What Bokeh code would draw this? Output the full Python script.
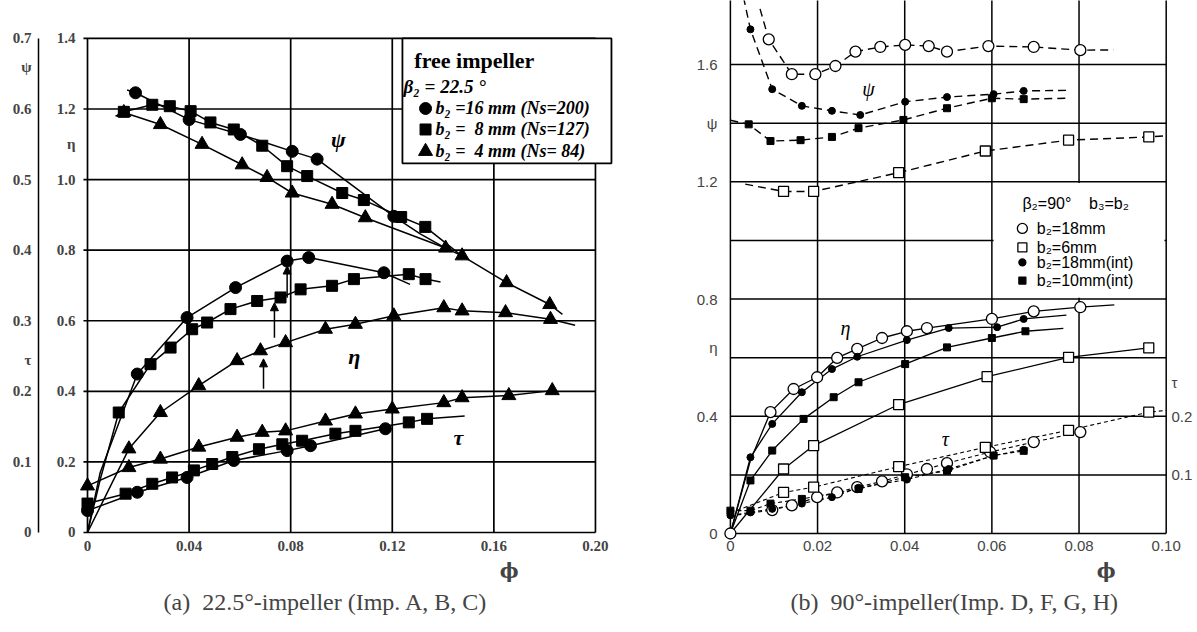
from bokeh.plotting import figure
from bokeh.layouts import row
from bokeh.models import Range1d, LinearAxis, FixedTicker, Label, Arrow, NormalHead, Title
from bokeh.embed import file_html
from bokeh.resources import INLINE

SERIF = "Liberation Serif"
SANS = "Liberation Sans"

# ======================= Panel (a) data =======================
a_phi_ticks = [0.0, 0.04, 0.08, 0.12, 0.16, 0.20]
a_phi_labels = ["0", "0.04", "0.08", "0.12", "0.16", "0.20"]
a_eta_ticks = [0.0, 0.2, 0.4, 0.6, 0.8, 1.0, 1.2, 1.4]
a_eta_labels = ["0", "0.2", "0.4", "0.6", "0.8", "1.0", "1.2", "1.4"]
a_psi_ticks = [0.0, 0.1, 0.2, 0.3, 0.4, 0.5, 0.6, 0.7]
a_psi_labels = ["0", "0.1", "0.2", "0.3", "0.4", "0.5", "0.6", "0.7"]

# psi (outer left scale)
a16_psi_phi = [0.0189, 0.040, 0.0602, 0.0806, 0.0904, 0.1206]
a16_psi_val = [0.623, 0.585, 0.564, 0.540, 0.529, 0.448]
a16_psi_line_phi = [0.0156] + a16_psi_phi + [0.131, 0.141]
a16_psi_line_val = [0.627] + a16_psi_val + [0.423, 0.403]

a8_psi_phi = [0.0143, 0.0255, 0.0324, 0.0406, 0.0484, 0.0576, 0.0688, 0.0786, 0.0865, 0.1003, 0.1088, 0.1235, 0.1330]
a8_psi_val = [0.596, 0.606, 0.604, 0.597, 0.581, 0.571, 0.548, 0.519, 0.505, 0.481, 0.471, 0.447, 0.433]
a8_psi_line_phi = a8_psi_phi + [0.147]
a8_psi_line_val = a8_psi_val + [0.393]

a4_psi_phi = [0.0143, 0.0287, 0.0451, 0.0609, 0.0707, 0.0806, 0.0963, 0.1094, 0.141, 0.1475, 0.165, 0.182]
a4_psi_val = [0.595, 0.578, 0.550, 0.521, 0.503, 0.481, 0.465, 0.446, 0.403, 0.392, 0.354, 0.323]
a4_psi_line_phi = [0.011] + a4_psi_phi + [0.187]
a4_psi_line_val = [0.590] + a4_psi_val + [0.309]

# eta (inner left scale)
a16_eta_phi = [0.0196, 0.0392, 0.0583, 0.0786, 0.0871, 0.1167]
a16_eta_val = [0.449, 0.609, 0.694, 0.769, 0.779, 0.736]
a16_eta_line_phi = [0.0, 0.005] + a16_eta_phi + [0.127]
a16_eta_line_val = [0.0, 0.17] + a16_eta_val + [0.703]

a8_eta_phi = [0.0123, 0.0248, 0.0327, 0.0412, 0.0471, 0.0563, 0.0668, 0.076, 0.0839, 0.0963, 0.1049, 0.1265, 0.1331]
a8_eta_val = [0.340, 0.477, 0.524, 0.576, 0.595, 0.633, 0.656, 0.666, 0.689, 0.699, 0.718, 0.732, 0.718]
a8_eta_line_phi = [0.0, 0.005] + a8_eta_phi + [0.139]
a8_eta_line_val = [0.0, 0.15] + a8_eta_val + [0.710]

a4_eta_phi = [0.0163, 0.0287, 0.0438, 0.0589, 0.0681, 0.078, 0.0937, 0.1055, 0.1206, 0.1403, 0.1475, 0.1646, 0.1823]
a4_eta_val = [0.237, 0.340, 0.416, 0.487, 0.515, 0.538, 0.576, 0.590, 0.614, 0.637, 0.628, 0.623, 0.604]
a4_eta_line_phi = [0.0] + a4_eta_phi + [0.192]
a4_eta_line_val = [0.0] + a4_eta_val + [0.587]

# tau (outer left scale)
a16_tau_phi = [0.0, 0.0196, 0.0392, 0.0576, 0.0786, 0.0878, 0.1173]
a16_tau_val = [0.031, 0.057, 0.078, 0.102, 0.116, 0.123, 0.147]
a8_tau_phi = [0.0, 0.015, 0.0255, 0.0333, 0.0419, 0.0491, 0.057, 0.0675, 0.0767, 0.0845, 0.0976, 0.1055, 0.1265, 0.1337]
a8_tau_val = [0.041, 0.055, 0.069, 0.078, 0.088, 0.097, 0.107, 0.118, 0.125, 0.130, 0.140, 0.144, 0.156, 0.161]
a8_tau_line_phi = a8_tau_phi + [0.1485]
a8_tau_line_val = a8_tau_val + [0.165]
a4_tau_phi = [0.0, 0.0163, 0.0287, 0.0438, 0.0589, 0.0688, 0.078, 0.0937, 0.1055, 0.12, 0.1403, 0.1475, 0.1659, 0.183]
a4_tau_val = [0.066, 0.092, 0.104, 0.121, 0.135, 0.142, 0.144, 0.158, 0.168, 0.175, 0.184, 0.191, 0.194, 0.201]

# best-efficiency arrows (phi, eta from, eta to)
a_arrow_phi = [0.0786, 0.0736, 0.0693]
a_arrow_from = [0.665, 0.552, 0.407]
a_arrow_to = [0.755, 0.651, 0.492]

a_legend_title = ["free impeller", "\u03b2\u2082 = 22.5 \u00b0"]
a_legend_items = ["b\u2082 =16 mm (Ns=200)", "b\u2082 =\u00a0 8 mm (Ns=127)", "b\u2082 =\u00a0 4 mm (Ns=\u00a084)"]

# ======================= Panel (b) data =======================
b_phi_ticks = [0.0, 0.02, 0.04, 0.06, 0.08, 0.10]
b_phi_labels = ["0", "0.02", "0.04", "0.06", "0.08", "0.10"]
b_y_ticks = [0.0, 0.4, 0.8, 1.2, 1.6]
b_y_labels = ["0", "0.4", "0.8", "1.2", "1.6"]
b_grid_vals = [0.0, 0.2, 0.4, 0.6, 0.8, 1.0, 1.2, 1.4, 1.6]
b_tau_ticks = [0.1, 0.2]
b_tau_labels = ["0.1", "0.2"]

b18_psi_phi = [0.0088, 0.0141, 0.0195, 0.0241, 0.0287, 0.0344, 0.0401, 0.0455, 0.0497, 0.0592, 0.0696, 0.0803]
b18_psi_val = [1.686, 1.567, 1.567, 1.595, 1.644, 1.660, 1.667, 1.663, 1.644, 1.663, 1.660, 1.649]
b18_psi_line_phi = [0.0068] + b18_psi_phi + [0.0879]
b18_psi_line_val = [1.79] + b18_psi_val + [1.650]

b18i_psi_phi = [0.0046, 0.0096, 0.0164, 0.0233, 0.0298, 0.0401, 0.0497, 0.0604, 0.0673]
b18i_psi_val = [1.720, 1.516, 1.459, 1.442, 1.428, 1.473, 1.489, 1.499, 1.510]
b18i_psi_line_phi = [0.0030] + b18i_psi_phi + [0.0771]
b18i_psi_line_val = [1.83] + b18i_psi_val + [1.512]

b10i_psi_phi = [0.0042, 0.0092, 0.0161, 0.0233, 0.0294, 0.0397, 0.0497, 0.060, 0.0673]
b10i_psi_val = [1.396, 1.339, 1.342, 1.353, 1.383, 1.411, 1.451, 1.485, 1.482]
b10i_psi_line_phi = [0.0] + b10i_psi_phi + [0.0771]
b10i_psi_line_val = [1.41] + b10i_psi_val + [1.485]

b6_psi_phi = [0.0122, 0.0191, 0.0386, 0.0585, 0.0776, 0.096]
b6_psi_val = [1.167, 1.167, 1.231, 1.305, 1.342, 1.353]
b6_psi_line_phi = [0.0034] + b6_psi_phi + [0.100]
b6_psi_line_val = [1.192] + b6_psi_val + [1.357]

b18_eta_phi = [0.0, 0.0092, 0.0145, 0.0199, 0.0245, 0.0291, 0.0348, 0.0405, 0.0451, 0.060, 0.0696, 0.0803]
b18_eta_val = [0.0, 0.414, 0.493, 0.533, 0.599, 0.630, 0.667, 0.690, 0.701, 0.732, 0.758, 0.772]
b18_eta_line_phi = [0.0, 0.0046] + b18_eta_phi[1:] + [0.0881]
b18_eta_line_val = [0.0, 0.25] + b18_eta_val[1:] + [0.780]

b18i_eta_phi = [0.0046, 0.0096, 0.0164, 0.0233, 0.0291, 0.0405, 0.0501, 0.0612, 0.0673]
b18i_eta_val = [0.260, 0.374, 0.482, 0.561, 0.603, 0.660, 0.701, 0.704, 0.732]
b18i_eta_line_phi = [0.0] + b18i_eta_phi + [0.0771]
b18i_eta_line_val = [0.0] + b18i_eta_val + [0.745]

b10i_eta_phi = [0.0046, 0.0096, 0.0168, 0.0237, 0.0294, 0.0401, 0.0497, 0.060, 0.0677]
b10i_eta_val = [0.181, 0.283, 0.391, 0.465, 0.516, 0.578, 0.635, 0.667, 0.690]
b10i_eta_line_phi = [0.0] + b10i_eta_phi + [0.0764]
b10i_eta_line_val = [0.0] + b10i_eta_val + [0.700]

b6_eta_phi = [0.0122, 0.0191, 0.0386, 0.0589, 0.0776, 0.096]
b6_eta_val = [0.220, 0.300, 0.440, 0.535, 0.601, 0.633]
b6_eta_line_phi = [0.0] + b6_eta_phi
b6_eta_line_val = [0.0] + b6_eta_val

b6_tau_phi = [0.0122, 0.0191, 0.0386, 0.0585, 0.0776, 0.096]
b6_tau_val = [0.070, 0.079, 0.114, 0.147, 0.176, 0.207]
b6_tau_line_phi = [0.0] + b6_tau_phi + [0.100]
b6_tau_line_val = [0.035] + b6_tau_val + [0.210]

b18_tau_phi = [0.0096, 0.0141, 0.0199, 0.0245, 0.0291, 0.0348, 0.0405, 0.0451, 0.0497, 0.0596, 0.0696, 0.0803]
b18_tau_val = [0.040, 0.048, 0.062, 0.070, 0.079, 0.089, 0.101, 0.110, 0.120, 0.139, 0.156, 0.173]
b18_tau_line_phi = [0.0] + b18_tau_phi
b18_tau_line_val = [0.030] + b18_tau_val

b18i_tau_phi = [0.0, 0.0046, 0.0096, 0.0164, 0.0233, 0.0294, 0.0405, 0.0501, 0.0604, 0.0673]
b18i_tau_val = [0.031, 0.036, 0.042, 0.051, 0.062, 0.078, 0.092, 0.110, 0.133, 0.143]

b10i_tau_phi = [0.0, 0.0046, 0.0092, 0.0164, 0.0294, 0.0401, 0.0497, 0.0604, 0.0673]
b10i_tau_val = [0.039, 0.039, 0.051, 0.059, 0.076, 0.096, 0.107, 0.133, 0.141]

b_legend_title = "\u03b2\u2082=90\u00b0\u00a0\u00a0\u00a0 b\u2083=b\u2082"
b_legend_items = ["b\u2082=18mm", "b\u2082=6mm", "b\u2082=18mm(int)", "b\u2082=10mm(int)"]

caption_a = "(a)\u00a0 22.5\u00b0-impeller (Imp. A, B, C)"
caption_b = "(b)\u00a0 90\u00b0-impeller(Imp. D, F, G, H)"


def lab(p, x, y, text, font, size, style="normal", align="center", baseline="middle", rng="default"):
    p.add_layout(Label(x=x, y=y, text=text, text_font=font, text_font_size=size,
                       text_font_style=style, text_align=align, text_baseline=baseline,
                       y_range_name=rng, text_color="black"))


def style_axis(ax, ticks, labels, font, size, fstyle="normal", standoff=2):
    ax.ticker = FixedTicker(ticks=sorted(ticks), minor_ticks=[])
    ax.major_label_overrides = dict(zip(ticks, labels))
    ax.axis_line_color = None
    ax.major_tick_line_color = None
    ax.minor_tick_line_color = None
    ax.major_tick_out = 0
    ax.major_tick_in = 0
    ax.minor_tick_out = 0
    ax.minor_tick_in = 0
    ax.major_label_standoff = standoff
    ax.major_label_text_font = font
    ax.major_label_text_font_size = size
    ax.major_label_text_font_style = fstyle


# ======================= Panel (a) figure =======================
H = 628
pa = figure(width=641, height=H, x_range=Range1d(-0.00394, 0.2075), y_range=Range1d(-0.0227, 1.5075),
            output_backend="svg", toolbar_location=None, title=None,
            min_border_left=77, min_border_right=27, min_border_top=0, min_border_bottom=H - 540)
pa.outline_line_color = None
pa.grid.visible = False
pa.extra_y_ranges = {"psi": Range1d(-0.01135, 0.75375)}

style_axis(pa.xaxis[0], a_phi_ticks, a_phi_labels, SERIF, "15px", "bold", standoff=0)

# inner (eta) axis, with the eta symbol as an extra label
style_axis(pa.yaxis[0], a_eta_ticks + [1.1], a_eta_labels + ["\u03b7"], SERIF, "15px", "bold", standoff=2)
pa.yaxis[0].axis_label = " "
pa.yaxis[0].axis_label_text_font_size = "8px"
pa.yaxis[0].axis_label_standoff = 3

# outer (psi / tau) axis
ax_psi = LinearAxis(y_range_name="psi", bounds=(0.0, 0.7))
style_axis(ax_psi, a_psi_ticks + [0.66, 0.245], a_psi_labels + ["\u03c8", "\u03c4"], SERIF, "15px", "bold",
           standoff=7)
ax_psi.axis_line_color = "black"
ax_psi.axis_line_width = 1.5
pa.add_layout(ax_psi, "left")

# frame grid
nv = len(a_phi_ticks)
nh = len(a_eta_ticks)
pa.segment(x0=a_phi_ticks, y0=[0.0] * nv, x1=a_phi_ticks, y1=[1.4] * nv, line_color="black", line_width=1.7)
pa.segment(x0=[-0.0016] * nh, y0=a_eta_ticks, x1=[0.20] * nh, y1=a_eta_ticks, line_color="black", line_width=1.7)

LW = 1.5
pa.line(a16_psi_line_phi, a16_psi_line_val, y_range_name="psi", line_color="black", line_width=LW)
pa.line(a8_psi_line_phi, a8_psi_line_val, y_range_name="psi", line_color="black", line_width=LW)
pa.line(a4_psi_line_phi, a4_psi_line_val, y_range_name="psi", line_color="black", line_width=LW)
pa.line(a16_eta_line_phi, a16_eta_line_val, line_color="black", line_width=LW)
pa.line(a8_eta_line_phi, a8_eta_line_val, line_color="black", line_width=LW)
pa.line(a4_eta_line_phi, a4_eta_line_val, line_color="black", line_width=LW)
pa.line(a16_tau_phi, a16_tau_val, y_range_name="psi", line_color="black", line_width=LW)
pa.line(a8_tau_line_phi, a8_tau_line_val, y_range_name="psi", line_color="black", line_width=LW)
pa.line(a4_tau_phi, a4_tau_val, y_range_name="psi", line_color="black", line_width=LW)

CS, SS, TS = 12, 11, 14
for xs, ys, rng in [(a16_psi_phi, a16_psi_val, "psi"), (a16_eta_phi, a16_eta_val, "default"),
                    (a16_tau_phi, a16_tau_val, "psi")]:
    pa.scatter(xs, ys, marker="circle", size=CS, color="black", y_range_name=rng)
for xs, ys, rng in [(a8_psi_phi, a8_psi_val, "psi"), (a8_eta_phi, a8_eta_val, "default"),
                    (a8_tau_phi, a8_tau_val, "psi")]:
    pa.scatter(xs, ys, marker="square", size=SS, color="black", y_range_name=rng)
for xs, ys, rng in [(a4_psi_phi, a4_psi_val, "psi"), (a4_eta_phi, a4_eta_val, "default"),
                    (a4_tau_phi, a4_tau_val, "psi")]:
    pa.scatter(xs, ys, marker="triangle", size=TS, color="black", y_range_name=rng)

for xp, y0, y1 in zip(a_arrow_phi, a_arrow_from, a_arrow_to):
    pa.add_layout(Arrow(x_start=xp, y_start=y0, x_end=xp, y_end=y1, line_width=1.5, line_color="black",
                        end=NormalHead(size=8, fill_color="black", line_color="black")))

# legend box (a)
pa.quad(left=[0.124], right=[0.2063], bottom=[1.046], top=[1.4], fill_color="white",
        line_color="black", line_width=1.8)
lab(pa, 0.1287, 1.3375, a_legend_title[0], SERIF, "22px", "bold", align="left")
lab(pa, 0.1244, 1.264, a_legend_title[1], SERIF, "19px", "bold italic", align="left")
leg_y = [1.2015, 1.142, 1.080]
for m, s, yy, t in zip(["circle", "square", "triangle"], [CS, SS, TS], leg_y, a_legend_items):
    pa.scatter([0.1331], [yy], marker=m, size=s, color="black")
    lab(pa, 0.137, yy, t, SERIF, "18px", "bold italic", align="left")

lab(pa, 0.0988, 1.115, "\u03c8", SERIF, "22px", "bold italic")
lab(pa, 0.105, 0.50, "\u03b7", SERIF, "22px", "bold italic")
lab(pa, 0.146, 0.27, "\u03c4", SERIF, "22px", "bold italic")

pa.add_layout(Title(text="\u03d5", align="right", offset=96, standoff=6, text_font="DejaVu Serif",
                    text_font_size="20px", text_font_style="bold"), "below")
pa.add_layout(Title(text=caption_a, align="left", offset=86, standoff=2, text_font=SERIF,
                    text_font_size="24px", text_font_style="normal"), "below")

# ======================= Panel (b) figure =======================
pb = figure(width=556, height=H, x_range=Range1d(-0.0025, 0.1003), y_range=Range1d(-0.0239, 1.8185),
            output_backend="svg", toolbar_location=None, title=None,
            min_border_left=78, min_border_right=30, min_border_top=0, min_border_bottom=H - 540)
pb.outline_line_color = None
pb.grid.visible = False
pb.extra_y_ranges = {"tau": Range1d(-0.01195, 0.90925)}

style_axis(pb.xaxis[0], b_phi_ticks, b_phi_labels, SANS, "15px", standoff=0)
style_axis(pb.yaxis[0], b_y_ticks + [1.40, 0.634], b_y_labels + ["\u03c8", "\u03b7"], SANS, "15px", standoff=2)

ax_tau = LinearAxis(y_range_name="tau")
style_axis(ax_tau, b_tau_ticks + [0.2575], b_tau_labels + ["\u03c4"], SANS, "15px", standoff=4)
pb.add_layout(ax_tau, "right")

nv = len(b_phi_ticks)
nh = len(b_grid_vals)
pb.segment(x0=b_phi_ticks, y0=[0.0] * nv, x1=b_phi_ticks, y1=[1.85] * nv, line_color="black", line_width=1.5)
pb.segment(x0=[0.0] * nh, y0=b_grid_vals, x1=[0.10] * nh, y1=b_grid_vals, line_color="black", line_width=1.5)
pb.quad(left=[0.0604], right=[0.0996], bottom=[0.804], top=[1.196], fill_color="white", line_color=None)

PS = "8 5"
TD = "4 3"
for xs, ys in [(b18_psi_line_phi, b18_psi_line_val), (b18i_psi_line_phi, b18i_psi_line_val),
               (b10i_psi_line_phi, b10i_psi_line_val), (b6_psi_line_phi, b6_psi_line_val)]:
    pb.line(xs, ys, line_color="black", line_width=1.4, line_dash=PS)
for xs, ys in [(b18_eta_line_phi, b18_eta_line_val), (b18i_eta_line_phi, b18i_eta_line_val),
               (b10i_eta_line_phi, b10i_eta_line_val), (b6_eta_line_phi, b6_eta_line_val)]:
    pb.line(xs, ys, line_color="black", line_width=1.3)
for xs, ys in [(b6_tau_line_phi, b6_tau_line_val), (b18_tau_line_phi, b18_tau_line_val),
               (b18i_tau_phi, b18i_tau_val), (b10i_tau_phi, b10i_tau_val)]:
    pb.line(xs, ys, y_range_name="tau", line_color="black", line_width=1.1, line_dash=TD)

OC, OSQ, FC, FSQ = 11, 10, 7, 7
for xs, ys, rng in [(b18_psi_phi, b18_psi_val, "default"), (b18_eta_phi, b18_eta_val, "default"),
                    (b18_tau_phi, b18_tau_val, "tau")]:
    pb.scatter(xs, ys, marker="circle", size=OC, fill_color="white", line_color="black", line_width=1.3,
               y_range_name=rng)
for xs, ys, rng in [(b6_psi_phi, b6_psi_val, "default"), (b6_eta_phi, b6_eta_val, "default"),
                    (b6_tau_phi, b6_tau_val, "tau")]:
    pb.scatter(xs, ys, marker="square", size=OSQ, fill_color="white", line_color="black", line_width=1.3,
               y_range_name=rng)
for xs, ys, rng in [(b18i_psi_phi, b18i_psi_val, "default"), (b18i_eta_phi, b18i_eta_val, "default"),
                    (b18i_tau_phi, b18i_tau_val, "tau")]:
    pb.scatter(xs, ys, marker="circle", size=FC, color="black", y_range_name=rng)
for xs, ys, rng in [(b10i_psi_phi, b10i_psi_val, "default"), (b10i_eta_phi, b10i_eta_val, "default"),
                    (b10i_tau_phi, b10i_tau_val, "tau")]:
    pb.scatter(xs, ys, marker="square", size=FSQ, color="black", y_range_name=rng)

lab(pb, 0.067, 1.126, b_legend_title, SANS, "16px", "normal", align="left")
leg_yb = [1.041, 0.976, 0.925, 0.863]
leg_m = [("circle", OC - 1, "white"), ("square", OSQ - 1, "white"), ("circle", FC, "black"), ("square", FSQ, "black")]
for (m, s, f), yy, t in zip(leg_m, leg_yb, b_legend_items):
    pb.scatter([0.067], [yy], marker=m, size=s, fill_color=f, line_color="black", line_width=1.3)
    lab(pb, 0.0703, yy, t, SANS, "16px", "normal", align="left")

lab(pb, 0.0317, 1.517, "\u03c8", SERIF, "20px", "italic")
lab(pb, 0.0264, 0.702, "\u03b7", SERIF, "20px", "italic")
lab(pb, 0.0493, 0.324, "\u03c4", SERIF, "20px", "italic")

pb.add_layout(Title(text="\u03d5", align="right", offset=52, standoff=6, text_font="DejaVu Serif",
                    text_font_size="20px", text_font_style="bold"), "below")
pb.add_layout(Title(text=caption_b, align="left", offset=71, standoff=2, text_font=SERIF,
                    text_font_size="24px", text_font_style="normal"), "below")

layout = row(pa, pb)
open("out.html", "w").write(file_html(layout, INLINE))
